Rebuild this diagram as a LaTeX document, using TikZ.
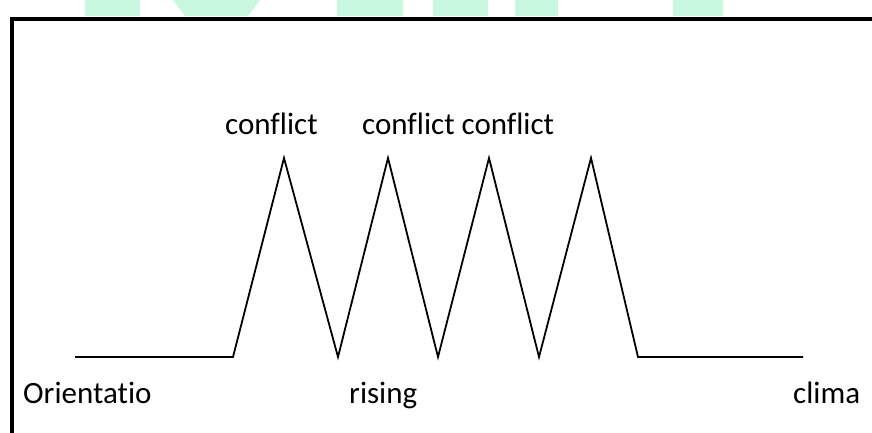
\documentclass[tikz,border=0pt]{standalone}
\usepackage{fontspec}
\setmainfont{Carlito}[Ligatures=NoCommon]
\definecolor{mint}{HTML}{C8F8E0}
\begin{document}
\begin{tikzpicture}[x=1pt,y=-1pt,
  lbl/.style={anchor=base west, inner sep=0pt, font=\fontsize{31}{36}\selectfont},
  wm/.style={fill=mint, draw=none},
  frame/.style={line width=3.5pt, line join=miter},
  zig/.style={line width=1.8pt, line join=miter}]
\useasboundingbox (0,0) rectangle (872,433);
% watermark fragments
\fill[wm] (85,0) rectangle (140,16);
\fill[wm] (173,0) -- (260,0) -- (248,16) -- (185,16) -- cycle;
\fill[wm] (337,0) rectangle (403,16);
\fill[wm] (433,0) rectangle (488,16);
\fill[wm] (515,0) rectangle (558,16);
\fill[wm] (673,0) rectangle (723,16);
% frame
\coordinate (fb) at (12,440);
\coordinate (fc) at (12,19);
\coordinate (fr) at (880,19);
\draw[frame] (fb) -- (fc) -- (fr);
% zigzag
\coordinate (s) at (75,357);
\coordinate (a) at (233,357);
\coordinate (p1) at (284,158);
\coordinate (v1) at (338,357);
\coordinate (p2) at (388,158);
\coordinate (v2) at (438,357);
\coordinate (p3) at (489,158);
\coordinate (v3) at (539,357);
\coordinate (p4) at (591,158);
\coordinate (b) at (638,357);
\coordinate (e) at (803,357);
\draw[zig] (s) -- (a) -- (p1) -- (v1) -- (p2) -- (v2) -- (p3) -- (v3) -- (p4) -- (b) -- (e);
% labels
\node[lbl] (c1) at (225,135) {conflict};
\node[lbl] (c2) at (362,135) {conflict conflict};
\node[lbl] (o) at (23,403) {Orientatio};
\node[lbl] (r) at (349,403) {rising};
\node[lbl] (cl) at (793,403) {clima};
\end{tikzpicture}
\end{document}
